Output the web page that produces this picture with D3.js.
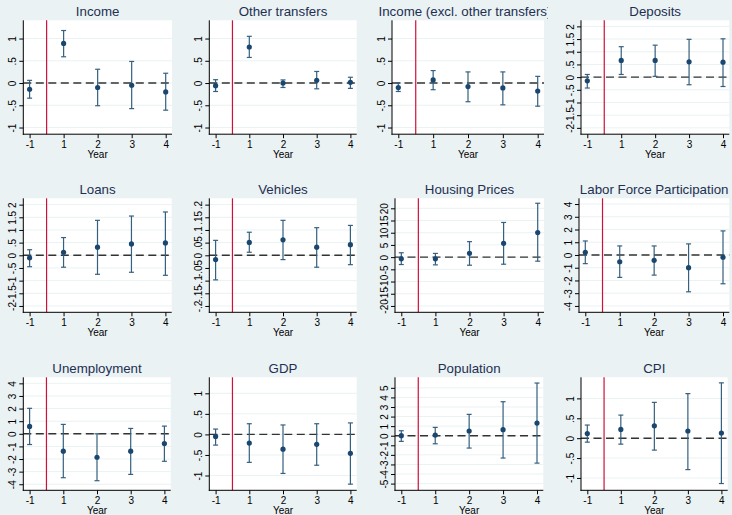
<!DOCTYPE html>
<html><head><meta charset="utf-8">
<script src="https://cdn.jsdelivr.net/npm/d3@7/dist/d3.min.js"></script>
<style>
body{margin:0;background:#eaf2f3;}
svg{display:block;font-family:"Liberation Sans",Arial,sans-serif;}
</style>
</head><body>
<svg id="chart" width="732" height="515"></svg>
<script>
// ---------- data ----------
const years = ["-1", "1", "2", "3", "4"];
const titles = ["Income", "Other transfers", "Income (excl. other transfers)", "Deposits",
  "Loans", "Vehicles", "Housing Prices", "Labor Force Participation",
  "Unemployment", "GDP", "Population", "CPI"];

const incomeB  = [-0.14, 0.89, -0.10, -0.05, -0.20];
const incomeLo = [-0.34, 0.59, -0.51, -0.575, -0.61];
const incomeHi = [0.06, 1.18, 0.31, 0.485, 0.22];

const transfersB  = [-0.06, 0.81, 0.00, 0.06, 0.015];
const transfersLo = [-0.19, 0.575, -0.10, -0.13, -0.12];
const transfersHi = [0.075, 1.05, 0.07, 0.26, 0.13];

const incExclB  = [-0.10, 0.07, -0.08, -0.11, -0.18];
const incExclLo = [-0.19, -0.15, -0.42, -0.49, -0.52];
const incExclHi = [0.00, 0.28, 0.25, 0.25, 0.15];

const depositsB  = [-0.145, 0.66, 0.66, 0.605, 0.59];
const depositsLo = [-0.43, 0.105, 0.03, -0.30, -0.37];
const depositsHi = [0.105, 1.20, 1.26, 1.49, 1.51];

const loansB  = [-0.10, 0.12, 0.32, 0.45, 0.49];
const loansLo = [-0.45, -0.47, -0.75, -0.67, -0.79];
const loansHi = [0.22, 0.70, 1.38, 1.55, 1.71];

const vehiclesB  = [-0.017, 0.051, 0.061, 0.032, 0.042];
const vehiclesLo = [-0.097, 0.012, -0.017, -0.047, -0.037];
const vehiclesHi = [0.059, 0.091, 0.138, 0.109, 0.118];

const housingB  = [-0.69, -0.69, 1.52, 5.66, 10.07];
const housingLo = [-3.03, -3.17, -3.31, -2.9, -1.66];
const housingHi = [1.79, 1.52, 6.34, 14.2, 22.07];

const lfpB  = [0.21, -0.53, -0.42, -1.0, -0.18];
const lfpLo = [-0.68, -1.76, -1.58, -2.89, -2.26];
const lfpHi = [1.10, 0.71, 0.71, 0.87, 1.89];

const unempB  = [0.585, -1.38, -1.86, -1.38, -0.77];
const unempLo = [-0.85, -3.48, -3.72, -3.22, -2.18];
const unempHi = [2.02, 0.745, 0.0, 0.425, 0.61];

const gdpB  = [-0.05, -0.21, -0.36, -0.24, -0.46];
const gdpLo = [-0.26, -0.68, -0.95, -0.75, -1.21];
const gdpHi = [0.13, 0.26, 0.23, 0.26, 0.28];

const popB  = [0.0, 0.07, 0.49, 0.63, 1.32];
const popLo = [-0.59, -0.84, -1.29, -2.33, -2.86];
const popHi = [0.52, 0.87, 2.23, 3.55, 5.5];

const cpiB  = [0.117, 0.22, 0.31, 0.18, 0.13];
const cpiLo = [-0.10, -0.15, -0.30, -0.79, -1.14];
const cpiHi = [0.33, 0.58, 0.90, 1.12, 1.39];

// y tick values
const ticksOne = [-1, -0.5, 0, 0.5, 1];
const ticksTwo = [-2, -1.5, -1, -0.5, 0, 0.5, 1, 1.5, 2];
const ticksVeh = [-0.2, -0.15, -0.1, -0.05, 0, 0.05, 0.1, 0.15, 0.2];
const ticksHouse = [-20, -15, -10, -5, 0, 5, 10, 15, 20];
const ticksFour = [-4, -3, -2, -1, 0, 1, 2, 3, 4];
const ticksFive = [-5, -4, -3, -2, -1, 0, 1, 2, 3, 4, 5];

// y axis ranges
const yRanges = [[-1.15, 1.41], [-1.15, 1.41], [-1.15, 1.41], [-2.25, 2.24],
  [-2.25, 2.25], [-0.225, 0.225], [-22.6, 24.1], [-4.5, 4.45],
  [-4.48, 4.48], [-1.36, 1.39], [-5.7, 6.1], [-1.31, 1.53]];

// ---------- layout ----------
const plotLeft  = [23.3, 209.3, 392, 581, 23.3, 209.3, 395, 579, 23.3, 209.3, 395, 581];
const plotRight = [172, 356.7, 544, 729.3, 171.7, 356.7, 544, 729.3, 170.7, 356.7, 543.3, 727.7];
const rowTop = [20.3, 198.3, 377.3];
const rowBottom = [134.2, 312.3, 490.3];
const titleCenterOverride = {2: 465};

const panels = [
  [incomeB, incomeLo, incomeHi, ticksOne],
  [transfersB, transfersLo, transfersHi, ticksOne],
  [incExclB, incExclLo, incExclHi, ticksOne],
  [depositsB, depositsLo, depositsHi, ticksTwo],
  [loansB, loansLo, loansHi, ticksTwo],
  [vehiclesB, vehiclesLo, vehiclesHi, ticksVeh],
  [housingB, housingLo, housingHi, ticksHouse],
  [lfpB, lfpLo, lfpHi, ticksFour],
  [unempB, unempLo, unempHi, ticksFour],
  [gdpB, gdpLo, gdpHi, ticksOne],
  [popB, popLo, popHi, ticksFive],
  [cpiB, cpiLo, cpiHi, ticksOne]
];

const fmt = v => String(v).replace(/^(-?)0\./, "$1.");

const svg = d3.select("#chart");
svg.append("rect").attr("width", 732).attr("height", 515).attr("fill", "#eaf2f3");

const defs = svg.append("defs");
defs.append("clipPath").attr("id", "clipT3").append("rect")
  .attr("x", 366).attr("y", 0).attr("width", 182).attr("height", 40);

const NAVY = "#1a476f";

panels.forEach((p, i) => {
  const [b, lo, hi, ticks] = p;
  const row = Math.floor(i / 4);
  const L = plotLeft[i], R = plotRight[i], T = rowTop[row], B = rowBottom[row];
  const x = d3.scaleLinear().domain([0, 4]).range([L + 6.3, R - 6.3]);
  const y = d3.scaleLinear().domain(yRanges[i]).range([B, T]);
  const g = svg.append("g");

  g.append("rect").attr("x", L).attr("y", T).attr("width", R - L).attr("height", B - T).attr("fill", "#ffffff");

  // gridlines
  g.selectAll(".grid").data(ticks).join("line")
    .attr("x1", L).attr("x2", R)
    .attr("y1", d => y(d)).attr("y2", d => y(d))
    .attr("stroke", "#eaf2f3").attr("stroke-width", 1);

  // red vertical line between -1 and 1
  g.append("line").attr("x1", x(0.5)).attr("x2", x(0.5)).attr("y1", T).attr("y2", B)
    .attr("stroke", "#d0103a").attr("stroke-width", 1.2);

  // zero dashed line
  g.append("line").attr("x1", L).attr("x2", R).attr("y1", y(0)).attr("y2", y(0))
    .attr("stroke", "#333").attr("stroke-width", 1.4).attr("stroke-dasharray", "8,4.5");

  const idx = d3.range(5);
  // CI bars
  g.selectAll(".ci").data(idx).join("line")
    .attr("x1", d => x(d)).attr("x2", d => x(d))
    .attr("y1", d => y(lo[d])).attr("y2", d => y(hi[d]))
    .attr("stroke", "#35607f").attr("stroke-width", 1.2);
  g.selectAll(".capL").data(idx).join("line")
    .attr("x1", d => x(d) - 2.5).attr("x2", d => x(d) + 2.5)
    .attr("y1", d => y(lo[d])).attr("y2", d => y(lo[d]))
    .attr("stroke", "#35607f").attr("stroke-width", 1.2);
  g.selectAll(".capH").data(idx).join("line")
    .attr("x1", d => x(d) - 2.5).attr("x2", d => x(d) + 2.5)
    .attr("y1", d => y(hi[d])).attr("y2", d => y(hi[d]))
    .attr("stroke", "#35607f").attr("stroke-width", 1.2);
  // points
  g.selectAll(".pt").data(idx).join("circle")
    .attr("cx", d => x(d)).attr("cy", d => y(b[d])).attr("r", 2.6)
    .attr("fill", NAVY);

  // axes lines
  g.append("line").attr("x1", L).attr("x2", L).attr("y1", T).attr("y2", B + 0.5)
    .attr("stroke", "#000").attr("stroke-width", 1);
  g.append("line").attr("x1", L - 0.5).attr("x2", R).attr("y1", B).attr("y2", B)
    .attr("stroke", "#000").attr("stroke-width", 1);

  // y axis
  const ya = g.append("g").attr("transform", `translate(${L},0)`)
    .call(d3.axisLeft(y).tickValues(ticks).tickSize(4).tickFormat(fmt));
  ya.select(".domain").remove();
  ya.selectAll(".tick line").attr("stroke", "#000");
  ya.selectAll(".tick text")
    .attr("x", null).attr("dy", null)
    .attr("transform", "translate(-7,0) rotate(-90)")
    .attr("text-anchor", "middle")
    .attr("font-size", 10).attr("fill", "#000")
    .attr("font-family", "Liberation Sans, Arial, sans-serif");

  // x axis
  const xa = g.append("g").attr("transform", `translate(0,${B})`)
    .call(d3.axisBottom(x).tickValues(idx).tickSize(4).tickPadding(3).tickFormat(d => years[d]));
  xa.select(".domain").remove();
  xa.selectAll(".tick line").attr("stroke", "#000");
  xa.selectAll(".tick text").attr("font-size", 10).attr("fill", "#000")
    .attr("font-family", "Liberation Sans, Arial, sans-serif");

  // x title
  g.append("text").attr("x", (L + R) / 2).attr("y", B + 24)
    .attr("text-anchor", "middle").attr("font-size", 10).attr("fill", "#000")
    .text("Year");

  // panel title
  const tc = titleCenterOverride[i] !== undefined ? titleCenterOverride[i] : (L + R) / 2;
  const t = g.append("text").attr("x", tc).attr("y", T - 4)
    .attr("text-anchor", "middle").attr("font-size", 13.3).attr("fill", "#1e2f52")
    .text(titles[i]);
  if (i === 2) t.attr("clip-path", "url(#clipT3)");
});
</script>
</body></html>
